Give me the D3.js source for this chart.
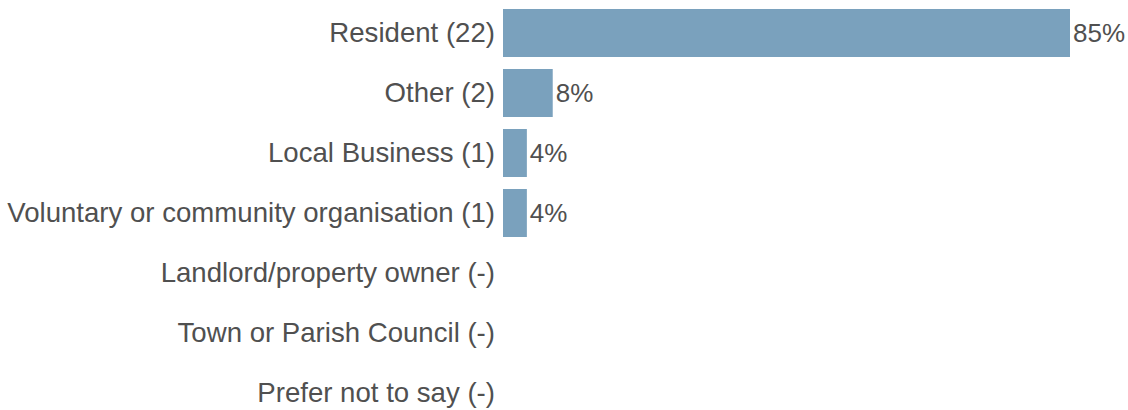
<!DOCTYPE html>
<html>
<head>
<meta charset="utf-8">
<script src="https://cdn.jsdelivr.net/npm/d3@7"></script>
<style>
  html, body { margin: 0; padding: 0; background: #fff; }
  svg { display: block; }
  text { font-family: "Liberation Sans", Arial, sans-serif; }
</style>
</head>
<body>
<div id="chart"></div>
<script>
// Respondent type: category labels, response counts and displayed shares
const categories = [
  "Resident (22)",
  "Other (2)",
  "Local Business (1)",
  "Voluntary or community organisation (1)",
  "Landlord/property owner (-)",
  "Town or Parish Council (-)",
  "Prefer not to say (-)"
];
const counts = [22, 2, 1, 1, 0, 0, 0];
const percentLabels = ["85%", "8%", "4%", "4%", "", "", ""];

const width = 1128, height = 410;
const barLeft = 503;

const svg = d3.select("#chart").append("svg")
  .attr("width", width)
  .attr("height", height);

const y = d3.scaleBand()
  .domain(categories)
  .range([3, 423])
  .paddingInner(0.2)
  .paddingOuter(0.1);

const x = d3.scaleLinear()
  .domain([0, 22])
  .range([barLeft, barLeft + 569]);

const rows = categories.map((c, i) => ({ cat: c, count: counts[i], label: percentLabels[i] }));

// Category axis on the left, no line or ticks
const yAxis = d3.axisLeft(y).tickSize(0).tickPadding(0);
const gy = svg.append("g")
  .attr("transform", `translate(${barLeft - 8},0)`)
  .call(yAxis);
gy.select(".domain").remove();
gy.selectAll("text")
  .attr("font-size", 27.6)
  .attr("fill", "#505050")
  .style("font-family", "'Liberation Sans', Arial, sans-serif");

// Bars
svg.append("g").selectAll("rect")
  .data(rows.filter(d => d.count > 0))
  .join("rect")
  .attr("x", x(0))
  .attr("y", d => y(d.cat))
  .attr("width", d => Math.max(0, x(d.count) - x(0) - 2))
  .attr("height", y.bandwidth())
  .attr("fill", "#7aa1bd");

// Value labels
svg.append("g").selectAll("text")
  .data(rows.filter(d => d.count > 0))
  .join("text")
  .attr("x", d => x(d.count) + 1)
  .attr("y", d => y(d.cat) + y.bandwidth() / 2)
  .attr("dy", "0.35em")
  .attr("font-size", 26)
  .attr("fill", "#505050")
  .text(d => d.label);
</script>
</body>
</html>
